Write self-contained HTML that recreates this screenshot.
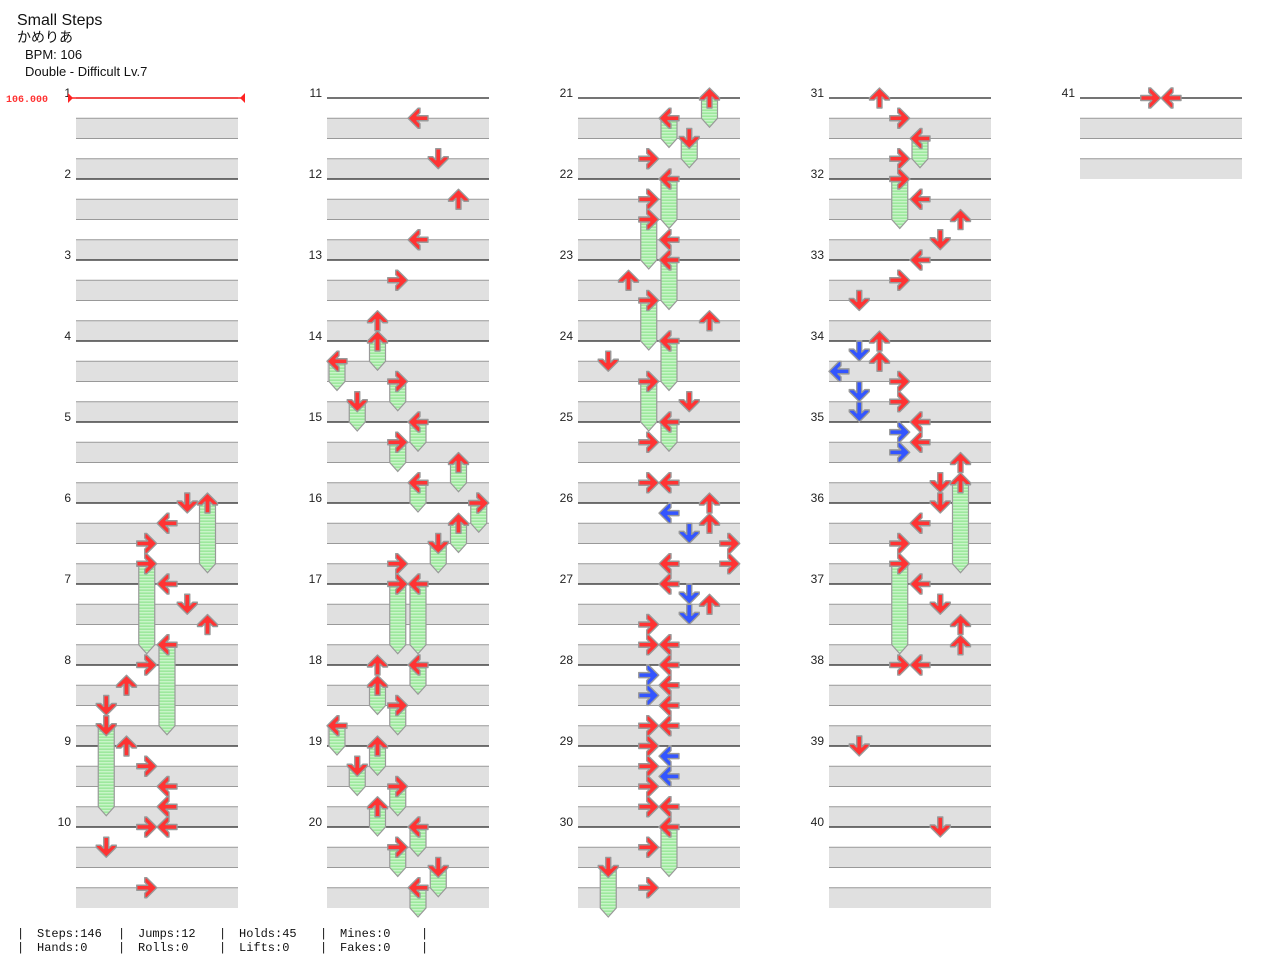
<!DOCTYPE html>
<html><head><meta charset="utf-8"><style>
body{margin:0;background:#fff;width:1280px;height:971px;overflow:hidden}
svg{display:block}
</style></head><body>
<svg id="chart" width="1280" height="971" xmlns="http://www.w3.org/2000/svg">
<defs>
<pattern id="holdpat" patternUnits="userSpaceOnUse" width="4" height="3">
<rect width="4" height="3" fill="#9de89d"/><rect y="0" width="4" height="1.4" fill="#c8f5c8"/>
</pattern>
</defs>
<g font-family="Liberation Sans, Noto Sans CJK JP, sans-serif" fill="#111">
<text x="17" y="25" font-size="16">Small Steps</text>
<text x="17" y="42" font-size="14" font-family="Liberation Sans, Noto Sans CJK JP, sans-serif">かめりあ</text>
<text x="25" y="59" font-size="13">BPM: 106</text>
<text x="25" y="76" font-size="13">Double - Difficult  Lv.7</text>
</g>
<g id="grid"></g>
<g id="bpm">
<text x="6" y="102" font-family="Liberation Mono, monospace" font-size="10" font-weight="bold" fill="#f33">106.000</text>
<line x1="68" y1="98" x2="245" y2="98" stroke="#f22" stroke-width="1.5"/>
<polygon points="68,93 73,98 68,103" fill="#f22"/>
<polygon points="245,93 240,98 245,103" fill="#f22"/>
</g>
<g id="holds"></g>
<g id="notes"></g>
<g font-family="Liberation Mono, DejaVu Sans Mono, monospace" font-size="12" fill="#111">
<text x="17" y="937">|</text><text x="17" y="951">|</text>
<text x="37" y="937">Steps:146</text><text x="37" y="951">Hands:0</text>
<text x="118" y="937">|</text><text x="118" y="951">|</text>
<text x="138" y="937">Jumps:12</text><text x="138" y="951">Rolls:0</text>
<text x="219" y="937">|</text><text x="219" y="951">|</text>
<text x="239" y="937">Holds:45</text><text x="239" y="951">Lifts:0</text>
<text x="320" y="937">|</text><text x="320" y="951">|</text>
<text x="340" y="937">Mines:0</text><text x="340" y="951">Fakes:0</text>
<text x="421" y="937">|</text><text x="421" y="951">|</text>
</g>
</svg>
<script>
// beat numbers (4 beats per measure, 40 beats per column) and lanes (0..7: L D U R L D U R)
const tapBeats = [20,21,22,24,25,26,28,29,30,32,33,34,35,36,36,37,39,
 41,43,45,47,49,51,63,68,
 83,85,87,89,91,93,95,97,99,99,100,100.5,101,101.5,102,103,103,104,104.5,105,105.5,106,107,107,108,108.5,109,109.5,110,111,111,112,112.5,113,113.5,114,115,115,117,119,
 120,121,123,125,126,127,128,129,130,132,132.5,133,133.5,134,134.5,135,135.5,136,136.5,137,137.5,138,139,140,141,142,144,145,146,147,148,148,152,156,
 160,160];
const tapLanes = [5,4,3,4,5,6,3,2,1,2,3,4,4,3,4,1,3,
 4,5,6,4,3,2,3,2,
 3,3,4,2,6,1,5,3,3,4,6,4,6,5,7,4,7,4,5,6,5,3,3,4,4,3,4,3,4,3,4,3,4,3,4,3,3,4,3,3,
 2,3,3,4,6,5,4,3,1,2,1,2,0,3,1,3,1,4,3,4,3,6,5,5,4,3,4,5,6,6,3,4,1,5,
 3,4];
const holdStarts = [20,23,27,31,
 52,53,54,55,56,57,58,59,60,61,62,64,64,68,69,70,71,72,73,74,75,76,77,78,79,
 80,81,82,84,86,88,90,92,94,96,116,118,
 122,124,139,143];
const holdEnds = [23,27,31,35,
 53,54,55,56,57,58,59,60,61,62,63,67,67,69,70,71,72,73,74,75,76,77,78,79,80,
 81,82,83,86,88,90,92,94,96,97,118,120,
 123,126,143,147];
const holdLanes = [6,3,4,1,
 2,0,3,1,4,3,6,4,7,6,5,3,4,4,2,3,0,2,1,3,2,4,3,5,4,
 6,4,5,4,3,4,3,4,3,4,4,1,
 4,3,6,3];
const measureCount = 41;

const NS='http://www.w3.org/2000/svg';
const COLW=251, LEFT=76, TOP=98, BEAT=20.25, LANEW=20.25, WIDTH=162, PERCOL=40;
function colOf(b){return Math.floor(b/PERCOL);}
function xLane(b,l){return LEFT+colOf(b)*COLW+10+l*LANEW;}
function yBeat(b){return TOP+(b-colOf(b)*PERCOL)*BEAT;}
function mk(tag,attrs,parent){const e=document.createElementNS(NS,tag);for(const k in attrs)e.setAttribute(k,attrs[k]);parent.appendChild(e);return e;}

const grid=document.getElementById('grid');
for(let m=0;m<measureCount;m++){
  const b=m*4, c=colOf(b), x0=LEFT+c*COLW, y0=yBeat(b);
  const g=mk('g',{},grid);
  
  
  mk('rect',{x:x0,y:y0+BEAT,width:WIDTH,height:BEAT,fill:'#e0e0e0'},g);
  mk('rect',{x:x0,y:y0+3*BEAT,width:WIDTH,height:BEAT,fill:'#e0e0e0'},g);
  for(let k=1;k<=3;k++) mk('line',{x1:x0,x2:x0+WIDTH,y1:y0+k*BEAT,y2:y0+k*BEAT,stroke:'#999','stroke-width':1},g);
  mk('line',{x1:x0,x2:x0+WIDTH,y1:y0,y2:y0,stroke:'#222','stroke-width':1.3},g);
  const t=mk('text',{x:x0-5,y:y0-1,'text-anchor':'end','font-family':'Liberation Sans, sans-serif','font-size':12,fill:'#222'},g);
  t.textContent=String(m+1);
}

const holdsG=document.getElementById('holds');
for(let i=0;i<holdStarts.length;i++){
  const b=holdStarts[i], x=xLane(b,holdLanes[i]), y1=yBeat(b), y2=y1+(holdEnds[i]-b)*BEAT;
  const p=mk('path',{d:`M${x-8},${y1} L${x+8},${y1} L${x+8},${y2} L${x},${y2+9} L${x-8},${y2} Z`,fill:'url(#holdpat)',stroke:'#999','stroke-width':1.2},holdsG);
  
  
}

const notesG=document.getElementById('notes');
const rot=[-90,180,0,90];
for(let i=0;i<tapBeats.length;i++) drawArrow(tapBeats[i],tapLanes[i],'tap-note');
for(let i=0;i<holdStarts.length;i++) drawArrow(holdStarts[i],holdLanes[i],'hold-head');
function drawArrow(b,l,name){
  const x=xLane(b,l), y=yBeat(b);
  const blue = (b%1)!==0;
  const p=mk('polygon',{points:'0,-10 10,0 10,2 5.5,2 2.5,-1 2.5,10 -2.5,10 -2.5,-1 -5.5,2 -10,2 -10,0',
    transform:`translate(${x},${y}) rotate(${rot[l%4]})`,fill:blue?'#3355ff':'#ff3333',stroke:'#999','stroke-width':1.4,'stroke-linejoin':'round'},notesG);
  
  
}
</script>
</body></html>
